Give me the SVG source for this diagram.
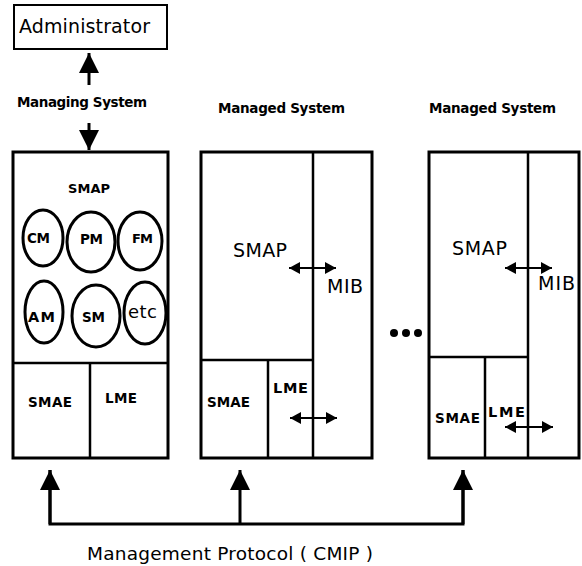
<svg xmlns="http://www.w3.org/2000/svg" width="582" height="566" viewBox="0 0 582 566">
<style>
.t{font-family:"DejaVu Sans","Open Sans",sans-serif;fill:#000}
.b{font-weight:bold}
.box{fill:#fff;stroke:#000;stroke-width:3}
.div{stroke:#000;stroke-width:2.5;fill:none}
.ell{fill:none;stroke:#000;stroke-width:3}
.con{stroke:#000;stroke-width:3;fill:none}
.dbl{stroke:#000;stroke-width:2;fill:none}
</style>
<defs>
<marker id="big" viewBox="0 0 20 20" markerWidth="20" markerHeight="20" refX="20" refY="10" orient="auto" markerUnits="userSpaceOnUse">
<path d="M0,0 L20,10 L0,20 z" fill="#000"/>
</marker>
<marker id="small" viewBox="0 0 11 12" markerWidth="11" markerHeight="12" refX="11" refY="6" orient="auto-start-reverse" markerUnits="userSpaceOnUse">
<path d="M0,0 L11,6 L0,12 z" fill="#000"/>
</marker>
</defs>

<g id="administrator">
<rect x="14" y="5" width="153" height="44" fill="#fff" stroke="#000" stroke-width="2"/>
<text class="t" x="19" y="33" font-size="19" textLength="131" lengthAdjust="spacing">Administrator</text>
</g>

<g id="managing-system">
<text class="t b" x="17" y="107" font-size="13.5" textLength="130" lengthAdjust="spacing">Managing System</text>
<rect class="box" x="13" y="152" width="155" height="306"/>
<line class="div" x1="13" y1="363" x2="168" y2="363"/>
<line class="div" x1="90" y1="363" x2="90" y2="458"/>
<text class="t b" x="68" y="193" font-size="13" textLength="42" lengthAdjust="spacing">SMAP</text>
<g id="cm"><ellipse class="ell" cx="43" cy="238" rx="20" ry="28"/><text class="t b" x="27" y="243" font-size="13.5" textLength="23" lengthAdjust="spacing">CM</text></g>
<g id="pm"><ellipse class="ell" cx="91" cy="242" rx="24" ry="30"/><text class="t b" x="80" y="244" font-size="13.5" textLength="23" lengthAdjust="spacing">PM</text></g>
<g id="fm"><ellipse class="ell" cx="140" cy="241" rx="22" ry="29"/><text class="t b" x="132" y="243" font-size="13" textLength="21" lengthAdjust="spacing">FM</text></g>
<g id="am"><ellipse class="ell" cx="44" cy="312" rx="19" ry="31"/><text class="t b" x="28" y="322" font-size="14.5" textLength="27" lengthAdjust="spacing">AM</text></g>
<g id="sm"><ellipse class="ell" cx="96" cy="316" rx="24" ry="31"/><text class="t b" x="82" y="322" font-size="13.5" textLength="23" lengthAdjust="spacing">SM</text></g>
<g id="etc"><ellipse class="ell" cx="145" cy="313" rx="21" ry="31"/><text class="t" x="128" y="318" font-size="18" textLength="29" lengthAdjust="spacing">etc</text></g>
<text class="t b" x="28" y="407" font-size="13.5" textLength="44" lengthAdjust="spacing">SMAE</text>
<text class="t b" x="105" y="403" font-size="13.5" textLength="32" lengthAdjust="spacing">LME</text>
</g>

<g id="managed-system-1">
<text class="t b" x="218" y="113" font-size="13.5" textLength="127" lengthAdjust="spacing">Managed System</text>
<rect class="box" x="201" y="152" width="171" height="306"/>
<line class="div" x1="313" y1="152" x2="313" y2="458"/>
<line class="div" x1="201" y1="360" x2="313" y2="360"/>
<line class="div" x1="268" y1="360" x2="268" y2="458"/>
<text class="t" x="233" y="257" font-size="19" textLength="54" lengthAdjust="spacing">SMAP</text>
<text class="t" x="327" y="293" font-size="19" textLength="36" lengthAdjust="spacing">MIB</text>
<text class="t b" x="207" y="407" font-size="13.5" textLength="43" lengthAdjust="spacing">SMAE</text>
<text class="t b" x="273" y="393" font-size="14.5" textLength="35" lengthAdjust="spacing">LME</text>
</g>

<g id="ellipsis">
<circle cx="394" cy="333" r="4"/>
<circle cx="406" cy="333" r="4"/>
<circle cx="418" cy="333" r="4"/>
</g>

<g id="managed-system-2">
<text class="t b" x="429" y="113" font-size="13.5" textLength="127" lengthAdjust="spacing">Managed System</text>
<rect class="box" x="429" y="152" width="150" height="306"/>
<line class="div" x1="528" y1="152" x2="528" y2="458"/>
<line class="div" x1="429" y1="357" x2="528" y2="357"/>
<line class="div" x1="485" y1="357" x2="485" y2="458"/>
<text class="t" x="452" y="255" font-size="19" textLength="55" lengthAdjust="spacing">SMAP</text>
<text class="t" x="538" y="290" font-size="19" textLength="37" lengthAdjust="spacing">MIB</text>
<text class="t b" x="435" y="423" font-size="13.5" textLength="45" lengthAdjust="spacing">SMAE</text>
<text class="t b" x="488" y="417" font-size="14.5" textLength="37" lengthAdjust="spacing">LME</text>
</g>

<g id="connectors">
<line class="con" x1="89" y1="85" x2="89" y2="53" marker-end="url(#big)"/>
<line class="con" x1="89" y1="123" x2="89" y2="150" marker-end="url(#big)"/>
<line class="dbl" x1="289" y1="268" x2="336" y2="268" marker-start="url(#small)" marker-end="url(#small)"/>
<line class="dbl" x1="290" y1="418" x2="337" y2="418" marker-start="url(#small)" marker-end="url(#small)"/>
<line class="dbl" x1="505" y1="268" x2="552" y2="268" marker-start="url(#small)" marker-end="url(#small)"/>
<line class="dbl" x1="505" y1="427" x2="553" y2="427" marker-start="url(#small)" marker-end="url(#small)"/>
<polyline class="con" points="50,470 50,524 463,524 463,470"/>
<line class="con" x1="50" y1="524" x2="50" y2="470" marker-end="url(#big)"/>
<line class="con" x1="240" y1="524" x2="240" y2="470" marker-end="url(#big)"/>
<line class="con" x1="463" y1="524" x2="463" y2="470" marker-end="url(#big)"/>
</g>

<text class="t" x="87" y="560" font-size="18.5" textLength="286" lengthAdjust="spacing">Management Protocol ( CMIP )</text>
</svg>
